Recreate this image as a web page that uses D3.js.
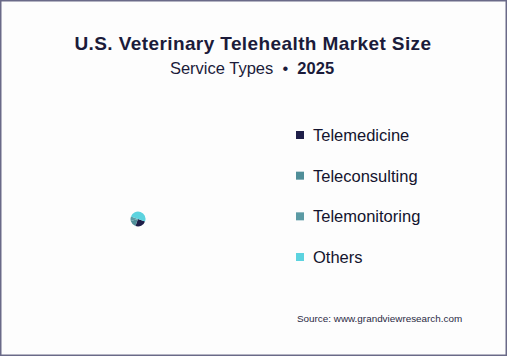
<!DOCTYPE html>
<html><head><meta charset="utf-8">
<script src="https://cdn.jsdelivr.net/npm/d3@7"></script>
<style>body{margin:0;background:#fff}svg{display:block}</style>
</head><body>
<script>
const categories = ["Telemedicine","Teleconsulting","Telemonitoring","Others"];
const values = [25, 15, 10, 50];
const colors = ["#1e1e48","#4f8e98","#5b9aa4","#5cd3df"];

const W=507,H=356;
const FONT="Liberation Sans, Arial, sans-serif";
const svg=d3.select("body").append("svg").attr("width",W).attr("height",H);
svg.append("rect").attr("x",0.75).attr("y",0.75).attr("width",W-1.5).attr("height",H-1.5)
  .attr("fill","#fdfdfd").attr("stroke","#6a6a88").attr("stroke-width",1.5);

svg.append("text").attr("x",253).attr("y",50).attr("text-anchor","middle")
  .attr("font-family",FONT).attr("font-weight","bold").attr("letter-spacing",0.4)
  .attr("font-size",19).attr("fill","#1b1b3a").text("U.S. Veterinary Telehealth Market Size");
const sub=svg.append("text").attr("x",252).attr("y",74).attr("text-anchor","middle")
  .attr("font-family",FONT).attr("font-size",16.5).attr("fill","#1b1b3a")
  .style("white-space","pre");
sub.append("tspan").text("Service Types  \u2022  ");
sub.append("tspan").attr("font-weight","bold").text("2025");

const pie=d3.pie().sort(null).value(d=>d).startAngle(110*Math.PI/180).endAngle((110+360)*Math.PI/180);
const arc=d3.arc().innerRadius(0).outerRadius(7.5);
svg.append("g").attr("transform","translate(138,219)").selectAll("path").data(pie(values)).join("path")
  .attr("d",arc).attr("fill",(d,i)=>colors[i]);

const ly=d3.scalePoint().domain(categories).range([135,257]);
const lg=svg.append("g").selectAll("g").data(categories).join("g")
  .attr("transform",d=>`translate(296,${ly(d)})`);
lg.append("rect").attr("x",0).attr("y",-4).attr("width",8).attr("height",8).attr("fill",(d,i)=>colors[i]);
lg.append("text").attr("x",17).attr("y",6).attr("font-family",FONT)
  .attr("font-size",16.5).attr("fill","#14142e").text(d=>d);

svg.append("text").attr("x",297).attr("y",322).attr("font-family",FONT)
  .attr("font-size",9.9).attr("fill","#2a2a44").text("Source: www.grandviewresearch.com");
</script>
</body></html>
